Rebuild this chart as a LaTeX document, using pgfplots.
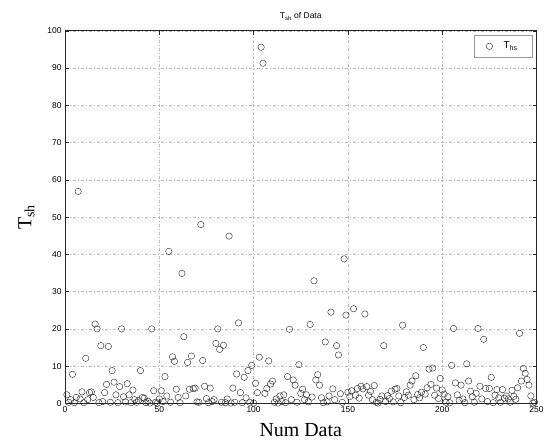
\documentclass[border=0pt]{standalone}
\usepackage{fontspec}
\setmainfont{Liberation Sans}
\newfontfamily\timesfont{Liberation Serif}
\usepackage{pgfplots}
\usepackage{pgfplotstable}
\pgfplotsset{compat=1.18}

% index  value
\pgfplotstableread{
n y
1 2.3
2 0.3
3 1.0
4 7.8
5 0.2
6 1.6
7 56.9
8 1.2
9 3.1
10 0.2
11 12.1
12 1.0
13 2.9
14 3.1
15 1.6
16 21.3
17 20.0
18 0.2
19 15.5
20 0.5
21 2.9
22 5.1
23 15.3
24 0.3
25 8.8
26 5.7
27 2.3
28 0.2
29 4.5
30 20.0
31 1.8
32 0.4
33 5.3
34 2.3
35 0.2
36 3.6
37 1.0
38 0.3
39 0.8
40 8.8
41 1.6
42 1.4
43 0.2
44 0.6
45 0.1
46 20.0
47 3.4
48 0.3
49 0.1
50 1.2
51 3.4
52 0.5
53 7.2
54 2.0
55 40.8
56 0.3
57 12.5
58 11.3
59 3.8
60 1.6
61 0.2
62 34.9
63 17.9
64 2.0
65 11.0
66 3.8
67 12.7
68 4.0
69 4.1
70 0.4
71 0.3
72 48.0
73 11.5
74 4.6
75 1.3
76 0.2
77 4.1
78 0.5
79 1.0
80 16.1
81 20.0
82 14.5
83 0.3
84 15.6
85 0.2
86 1.2
87 44.9
88 0.1
89 4.1
90 0.3
91 7.9
92 21.6
93 2.9
94 0.2
95 7.0
96 1.5
97 8.8
98 0.3
99 10.2
100 0.1
101 5.4
102 2.9
103 12.4
104 95.6
105 91.3
106 2.7
107 4.0
108 11.4
109 5.2
110 6.0
111 0.3
112 1.2
113 0.1
114 2.0
115 0.5
116 2.3
117 0.2
118 7.2
119 19.9
120 1.0
121 6.3
122 4.9
123 0.3
124 10.4
125 2.7
126 3.8
127 1.0
128 2.3
129 0.4
130 21.2
131 1.7
132 32.9
133 6.3
134 7.7
135 4.9
136 1.5
137 0.2
138 16.5
139 0.4
140 2.0
141 24.5
142 3.9
143 1.0
144 15.5
145 13.0
146 2.6
147 0.3
148 38.8
149 23.7
150 3.0
151 1.8
152 3.4
153 25.4
154 2.2
155 4.0
156 1.4
157 4.6
158 3.9
159 24.0
160 4.5
161 2.2
162 3.2
163 1.0
164 4.8
165 0.3
166 0.1
167 1.1
168 2.0
169 15.5
170 0.5
171 2.1
172 1.3
173 3.3
174 0.4
175 3.8
176 4.0
177 2.0
178 0.2
179 21.0
180 1.6
181 3.1
182 2.2
183 4.9
184 6.0
185 1.0
186 7.4
187 2.4
188 1.5
189 3.0
190 15.0
191 2.5
192 4.2
193 9.2
194 5.1
195 9.5
196 2.2
197 4.1
198 1.3
199 6.7
200 3.6
201 2.5
202 0.3
203 1.8
204 0.2
205 10.2
206 20.1
207 5.5
208 2.3
209 0.8
210 4.9
211 1.2
212 0.2
213 10.6
214 6.0
215 3.3
216 1.8
217 0.3
218 2.7
219 20.1
220 4.6
221 1.2
222 17.2
223 4.0
224 0.5
225 4.0
226 7.0
227 0.2
228 2.2
229 3.7
230 1.5
231 0.3
232 3.7
233 1.4
234 2.0
235 1.2
236 0.3
237 3.5
238 1.9
239 1.1
240 4.2
241 18.8
242 6.0
243 9.4
244 8.1
245 6.4
246 4.9
247 2.0
248 0.1
249 0.3
}\tshdata

\begin{document}
\begin{tikzpicture}
\begin{axis}[
  scale only axis,
  width=471.5bp, height=372.6bp,
  xmin=0, xmax=250, ymin=0, ymax=100,
  xtick={0,50,...,250}, ytick={0,10,...,100},
  tick align=inside,
  major tick length=4bp,
  tick style={black!85, line width=0.5pt},
  axis line style={black!85, line width=0.6pt},
  grid=major,
  major grid style={gray!55, line width=0.4pt, dash pattern=on 3bp off 2bp on 1bp off 2bp},
  ticklabel style={font=\fontsize{8.5}{10}\selectfont},
  /pgf/number format/assume math mode=true,
  title={T\textsubscript{sh} of Data},
  title style={font=\fontsize{8.5}{10}\selectfont, yshift=1bp},
  xlabel={Num Data},
  xlabel style={font=\timesfont\fontsize{20}{22}\selectfont, yshift=-4bp},
  ylabel={T\textsubscript{sh}},
  ylabel style={font=\timesfont\fontsize{20}{22}\selectfont, yshift=6bp},
  legend style={at={(0.992,0.989)}, anchor=north east, draw=gray!80,
    fill=white, font=\fontsize{10}{12}\selectfont,
    inner xsep=12bp, inner ysep=4bp, column sep=8bp,
    nodes={inner xsep=3bp, inner ysep=3bp}},
  legend cell align=left,
]
\addplot[only marks, mark=o, mark size=3.2bp,
  mark options={draw=black!80, line width=0.45pt}]
  table[x=n, y=y] {\tshdata};
\addlegendentry{T\textsubscript{hs}}
\end{axis}
\pgfresetboundingbox
\path (-65bp,-39.6bp) rectangle (481bp,403.4bp);
\end{tikzpicture}
\end{document}
